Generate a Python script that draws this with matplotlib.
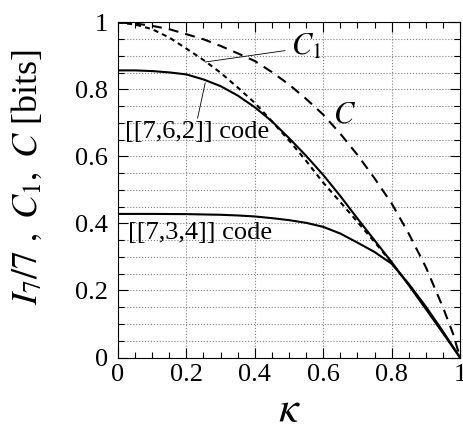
import matplotlib
matplotlib.use('Agg')
import matplotlib.pyplot as plt
from matplotlib.ticker import MultipleLocator

# --- Data ---
kappa_C = [0, 0.05, 0.1, 0.15, 0.2, 0.25, 0.3, 0.35, 0.4, 0.45, 0.5, 0.55, 0.6, 0.65,
           0.7, 0.75, 0.8, 0.85, 0.9, 0.95, 0.98, 1.0]
cap_C = [1.0, 0.997, 0.99, 0.98, 0.965, 0.95, 0.93, 0.908, 0.885, 0.852, 0.815, 0.772,
         0.725, 0.668, 0.605, 0.535, 0.46, 0.37, 0.27, 0.15, 0.07, 0.0]

kappa_C1 = [0, 0.05, 0.1, 0.15, 0.2, 0.25, 0.3, 0.35, 0.4, 0.45, 0.5, 0.55, 0.6, 0.65,
            0.7, 0.75, 0.8, 0.85, 0.9, 0.95, 1.0]
cap_C1 = [1.0, 0.994, 0.98, 0.955, 0.922, 0.888, 0.85, 0.806, 0.76, 0.705, 0.648, 0.587,
          0.522, 0.464, 0.405, 0.345, 0.283, 0.218, 0.148, 0.075, 0.0]

kappa_762 = [0, 0.05, 0.1, 0.15, 0.2, 0.25, 0.3, 0.35, 0.4, 0.45, 0.5, 0.55, 0.6, 0.65,
             0.7, 0.75, 0.8, 0.85, 0.9, 0.95, 1.0]
info_762 = [0.857, 0.857, 0.855, 0.851, 0.845, 0.83, 0.81, 0.782, 0.747, 0.705, 0.655,
            0.602, 0.545, 0.482, 0.415, 0.35, 0.285, 0.216, 0.145, 0.073, 0.0]

kappa_734 = [0, 0.1, 0.2, 0.3, 0.35, 0.4, 0.45, 0.5, 0.55, 0.6, 0.65, 0.7, 0.75, 0.8,
             0.85, 0.9, 0.95, 1.0]
info_734 = [0.4286, 0.4286, 0.428, 0.426, 0.424, 0.421, 0.416, 0.41, 0.402, 0.39, 0.37,
            0.343, 0.315, 0.28, 0.22, 0.152, 0.078, 0.0]

ticks = [0, 0.2, 0.4, 0.6, 0.8, 1.0]
tick_labels = ['0', '0.2', '0.4', '0.6', '0.8', '1']

plt.rcParams['font.family'] = 'Liberation Serif'
plt.rcParams['mathtext.fontset'] = 'stix'

fig = plt.figure(figsize=(4.64, 4.30), dpi=100)
ax = fig.add_axes([0.2543, 0.1686, 0.7371, 0.7791])

ax.plot(kappa_C, cap_C, color='black', lw=1.5, dashes=(4.8, 3.4))
ax.plot(kappa_C1, cap_C1, color='black', lw=1.5, dashes=(2.4, 2.0))
ax.plot(kappa_762, info_762, color='black', lw=1.5)
ax.plot(kappa_734, info_734, color='black', lw=1.5)

ax.set_xlim(0, 1)
ax.set_ylim(0, 1)
ax.set_xticks(ticks)
ax.set_xticklabels(tick_labels)
ax.set_yticks(ticks)
ax.set_yticklabels(tick_labels)
ax.xaxis.set_minor_locator(MultipleLocator(0.05))
ax.yaxis.set_minor_locator(MultipleLocator(0.05))
ax.tick_params(which='both', direction='in', top=True, right=True, labelsize=19)
ax.tick_params(which='major', length=7, width=0.8)
ax.tick_params(which='minor', length=4, width=0.8)
ax.tick_params(axis='x', pad=5)
ax.tick_params(axis='y', pad=7)

ax.grid(True, axis='x', which='major', color='gray', ls=':', lw=0.8)
ax.grid(True, axis='y', which='both', color='gray', ls=':', lw=0.8)

# annotations
ax.annotate('$C_1$', xy=(0.255, 0.882), xytext=(0.505, 0.925),
            fontsize=22, va='center', ha='left',
            arrowprops=dict(arrowstyle='-', color='black', lw=0.6, shrinkB=0, shrinkA=2))
ax.text(0.63, 0.725, '$C$', fontsize=22, va='center', ha='left')
ax.annotate('[[7,6,2]] code', xy=(0.255, 0.82), xytext=(0.02, 0.673),
            fontsize=19, va='center', ha='left',
            arrowprops=dict(arrowstyle='-', color='black', lw=0.6, shrinkA=0, shrinkB=0,
                            relpos=(0.5, 1.0)))
ax.text(0.03, 0.372, '[[7,3,4]] code', fontsize=19, va='center', ha='left')

ax.set_xlabel(r'$\kappa$', fontsize=32, labelpad=3)
ax.set_ylabel(r'$I_7/7\ ,\ C_1,\ C$ [bits]', fontsize=26)
ax.yaxis.set_label_coords(-0.215, 0.54)

fig.savefig('out.png', dpi=100)
